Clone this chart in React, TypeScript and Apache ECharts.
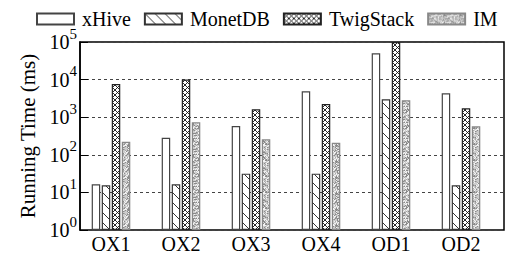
import React, { useEffect, useRef } from "react";
import * as echarts from "echarts";

const categories = ["QX1", "QX2", "QX3", "QX4", "QD1", "QD2"];
const seriesNames = ["xHive", "MonetDB", "TwigStack", "IM"];
const xHive = [16.4, 285, 583, 4880, 50000, 4320];
const monetDB = [15.5, 16.4, 31.5, 31.5, 2990, 15.5];
const twigStack = [7640, 10000, 1622, 2245, 100000, 1722];
const im = [223, 731, 258, 210, 2820, 572];

const FONT = "'Liberation Serif', 'Times New Roman', serif";

function makeCanvas(w: number, h: number) {
  const c = document.createElement("canvas");
  c.width = w;
  c.height = h;
  return c;
}

function diagPattern() {
  const c = makeCanvas(10, 10);
  const g = c.getContext("2d")!;
  g.fillStyle = "#fff";
  g.fillRect(0, 0, 10, 10);
  g.strokeStyle = "#333";
  g.lineWidth = 1;
  g.beginPath();
  g.moveTo(-1, -1);
  g.lineTo(11, 11);
  g.stroke();
  return c;
}

function crossPattern() {
  const s = 5;
  const c = makeCanvas(s, s);
  const g = c.getContext("2d")!;
  g.fillStyle = "#fff";
  g.fillRect(0, 0, s, s);
  g.strokeStyle = "#111";
  g.lineWidth = 0.9;
  g.beginPath();
  g.moveTo(-1, -1);
  g.lineTo(s + 1, s + 1);
  g.moveTo(-1, s + 1);
  g.lineTo(s + 1, -1);
  g.stroke();
  return c;
}

function stipplePattern() {
  const s = 16;
  const c = makeCanvas(s, s);
  const g = c.getContext("2d")!;
  g.fillStyle = "#cccccc";
  g.fillRect(0, 0, s, s);
  for (let y = 0; y < s; y++) {
    for (let x = 0; x < s; x++) {
      const h = ((x * 73856093) ^ (y * 19349663) ^ ((x + y) * 83492791)) >>> 0;
      const v = h % 7;
      if (v === 0) {
        g.fillStyle = "#8a8a8a";
        g.fillRect(x, y, 1, 1);
      } else if (v === 1 || v === 3) {
        g.fillStyle = "#f2f2f2";
        g.fillRect(x, y, 1, 1);
      } else if (v === 2) {
        g.fillStyle = "#a8a8a8";
        g.fillRect(x, y, 1, 1);
      }
    }
  }
  return c;
}

export default function App() {
  const ref = useRef<HTMLDivElement>(null);
  useEffect(() => {
    if (!ref.current) return;
    const chart = echarts.init(ref.current, null, { renderer: "svg" });
    const fills = [
      "#ffffff",
      { image: diagPattern(), repeat: "repeat" },
      { image: crossPattern(), repeat: "repeat" },
      { image: stipplePattern(), repeat: "repeat" },
    ];
    const borders = ["#444", "#333", "#222", "#888"];
    const datas = [xHive, monetDB, twigStack, im];
    const option: any = {
      animation: false,
      textStyle: { fontFamily: FONT },
      legend: {
        top: 9,
        left: 36,
        padding: 0,
        itemWidth: 37,
        itemHeight: 11,
        itemGap: 13,
        icon: "rect",
        data: seriesNames,
        textStyle: { fontFamily: FONT, fontSize: 20, color: "#000", padding: [0, 0, 0, 3] },
      },
      grid: [
        {
          left: 80,
          right: 15,
          top: 42,
          bottom: 29,
          show: true,
          borderColor: "#000",
          borderWidth: 1.5,
          backgroundColor: "transparent",
        },
        { left: 76, right: 23, top: 42, bottom: 29 },
      ],
      xAxis: [
        { type: "category", gridIndex: 0, data: categories, show: false },
        {
          type: "category",
          gridIndex: 1,
          data: categories,
          axisLine: { show: false },
          axisTick: { show: false },
          axisLabel: { fontFamily: FONT, fontSize: 20, color: "#000", margin: 4 },
        },
      ],
      yAxis: [
        {
          type: "log",
          logBase: 10,
          gridIndex: 0,
          min: 1,
          max: 100000,
          axisLine: { show: true, lineStyle: { color: "#000", width: 1.5 } },
          axisTick: { show: true, inside: true, length: 8, lineStyle: { color: "#000", width: 1 } },
          splitLine: { show: true, lineStyle: { color: "#444", type: [3, 3], width: 1 } },
          name: "Running Time (ms)",
          nameLocation: "middle",
          nameGap: 40,
          nameTextStyle: { fontFamily: FONT, fontSize: 21, color: "#000" },
          axisLabel: {
            margin: 3,
            align: "right",
            padding: [0, 0, 6, 0],
            formatter: (v: number) => `{b|10}{s|${Math.round(Math.log10(v))}}`,
            rich: {
              b: { fontFamily: FONT, fontSize: 20, color: "#000", padding: [6, 0, 0, 0], verticalAlign: "bottom" },
              s: { fontFamily: FONT, fontSize: 15, color: "#000", verticalAlign: "top" },
            },
          },
        },
        { type: "log", logBase: 10, gridIndex: 1, min: 1, max: 100000, show: false, splitLine: { show: false } },
      ],
      series: seriesNames.map((name, i) => ({
        name,
        type: "bar",
        xAxisIndex: 1,
        yAxisIndex: 1,
        data: datas[i],
        barWidth: 8.5,
        barGap: "18%",
        itemStyle: { color: fills[i], borderColor: borders[i], borderWidth: 1.2 },
      })),
    };
    chart.setOption(option);
    return () => chart.dispose();
  }, []);
  return <div ref={ref} style={{ width: 519, height: 259, margin: -8 }} />;
}
